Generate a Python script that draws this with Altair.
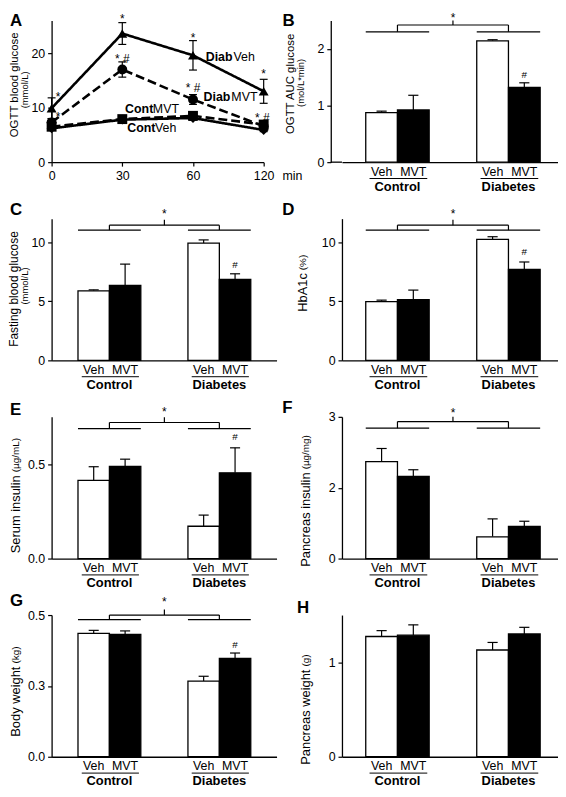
import altair as alt
import pandas as pd

FONT = "Liberation Sans"

# ---------------- Panel A: OGTT time course ----------------
a_times = ["0", "30", "60", "120"]
a_series = ["DiabVeh", "DiabMVT", "ContVeh", "ContMVT"]
a_diabveh = [9.9, 23.6, 19.6, 13.0]
a_diabveh_err = [1.9, 2.0, 2.7, 2.2]
a_diabmvt = [7.3, 17.0, 11.5, 6.6]
a_diabmvt_err = [0.7, 1.4, 0.9, 0.5]
a_contveh = [6.2, 7.8, 8.1, 5.9]
a_contveh_err = [0.3, 0.3, 0.4, 0.3]
a_contmvt = [6.5, 7.9, 8.5, 6.9]
a_contmvt_err = [0.3, 0.3, 0.4, 0.3]
a_sig_pos = [0.09, 0.09, 1.0, 1.0, 2.0, 2.0, 3.0, 2.98]
a_sig_val = [12.4, 8.6, 26.6, 19.3, 23.2, 13.9, 16.6, 8.5]
a_sig_txt = ["*", "*", "*", "* #", "*", "* #", "*", "* #"]
a_lab_bold = ["Diab", "Diab", "Cont", "Cont"]
a_lab_rest = ["Veh", "MVT", "MVT", "Veh"]
a_lab_pos = [2.18, 2.15, 1.04, 1.07]
a_lab_val = [19.3, 11.95, 9.73, 6.27]

# ---------------- Bar panels B-H ----------------
bar_groups = ["Control", "Control", "Diabetes", "Diabetes"]
bar_treat = ["Veh", "MVT", "Veh", "MVT"]
bar_slot = [0.0, 1.0, 3.5, 4.5]

b_mean = [0.875, 0.92, 2.14, 1.32]
b_top = [0.90, 1.18, 2.16, 1.40]
b_hash = 1.54
b_brk = [2.30, 2.42, 2.50, 2.60]

c_mean = [5.89, 6.35, 9.92, 6.85]
c_top = [5.97, 8.15, 10.2, 7.33]
c_hash = 8.1
c_brk = [11.03, 11.45, 11.9, 12.6]

d_mean = [4.97, 5.14, 10.25, 7.7]
d_top = [5.1, 5.95, 10.47, 8.33]
d_hash = 9.2
d_brk = [11.03, 11.45, 11.9, 12.6]

e_mean = [0.414, 0.488, 0.171, 0.454]
e_top = [0.486, 0.526, 0.23, 0.586]
e_hash = 0.645
e_brk = [0.688, 0.72, 0.748, 0.79]

f_mean = [2.05, 1.74, 0.46, 0.68]
f_top = [2.33, 1.88, 0.84, 0.79]
f_brk = [2.76, 2.9, 3.0, 3.14]

g_mean = [0.435, 0.432, 0.267, 0.347]
g_top = [0.446, 0.444, 0.284, 0.366]
g_hash = 0.395
g_brk = [0.484, 0.5, 0.52, 0.555]

h_mean = [1.273, 1.287, 1.13, 1.30]
h_top = [1.335, 1.396, 1.21, 1.37]

# ---------------- layout / style constants ----------------
H = 143
LEFT_W, RIGHT_W, A_W = 227, 218, 214
LEFT_BAR, RIGHT_BAR = 31.7, 32.0
LEFT_LO, RIGHT_LO = -0.84, -0.75
CAP = 0.16
ACAP = 0.056


def tx(text, x, y, size, weight="normal", angle=0, align="center", baseline="middle"):
    return alt.Chart(pd.DataFrame({"t": [text]})).mark_text(
        font=FONT, fontSize=size, fontWeight=weight, angle=angle, align=align,
        baseline=baseline, color="black").encode(x=alt.value(x), y=alt.value(y), text="t:N")


def ytitle(main, unit, spec):
    if spec[0] == "two":
        _, xm, ym, xu, yu, sm = spec
        return [tx(main, xm, ym, sm, angle=270), tx(unit, xu, yu, 9.5, angle=270)]
    _, x, j = spec
    return [tx(main, x, j, 13, angle=270, align="right"),
            tx(unit, x, j - 3, 10, angle=270, align="left")]


def letter_layer(letter, xy):
    return tx(letter, xy[0], xy[1], 17, weight="bold", align="left", baseline="top")


def bar_panel(mean, top, ymax, yticks, yfmt, hash_y, bracket, letter, letter_xy,
              main, unit, tspec, width, bar_px, xlo, yoffset=0):
    xs = alt.Scale(domain=[xlo, xlo + width / bar_px], nice=False, zero=False)
    ys = alt.Scale(domain=[0, ymax], nice=False, zero=True)
    xax = alt.Axis(title=None, labels=False, ticks=False, grid=False)
    yax = alt.Axis(title=None, values=yticks, format=yfmt, grid=False, offset=yoffset)

    def X(f):
        return alt.X(f, type="quantitative", scale=xs, axis=xax)

    def Y(f):
        return alt.Y(f, type="quantitative", scale=ys, axis=yax)

    df = pd.DataFrame({"group": bar_groups, "treat": bar_treat, "slot": bar_slot,
                       "mean": mean, "top": top})
    df["right"] = df["slot"] + 1
    df["center"] = df["slot"] + 0.5
    df["zero"] = 0.0
    df["capl"] = df["center"] - CAP
    df["capr"] = df["center"] + CAP
    base = alt.Chart(df)

    groups = []
    for g in ["Control", "Diabetes"]:
        sl = df[df["group"] == g]["slot"]
        groups.append({"group": g, "gl": sl.min(), "gr": sl.max() + 1,
                       "gc": (sl.min() + sl.max() + 1) / 2,
                       "ul1": sl.min() + 0.12, "ul2": sl.max() + 0.94})
    gdf = pd.DataFrame(groups)
    gbase = alt.Chart(gdf)

    layers = [
        base.mark_rule(color="black", strokeWidth=1.2).encode(x=X("center"), y=Y("mean"), y2="top"),
        base.mark_rule(color="black", strokeWidth=1.2).encode(x=X("capl"), x2="capr", y=Y("top")),
        base.mark_rect(stroke="black", strokeWidth=1.3).encode(
            x=X("slot"), x2="right", y=Y("mean"), y2="zero",
            fill=alt.Fill("treat:N", scale=alt.Scale(domain=["Veh", "MVT"], range=["white", "black"]),
                          legend=None)),
        base.mark_text(font=FONT, fontSize=12.5, color="black").encode(
            x=X("center"), y=alt.value(H + 9.5), text="treat:N"),
        gbase.mark_rule(color="black", strokeWidth=1).encode(x=X("ul1"), x2="ul2", y=alt.value(H + 16.5)),
        gbase.mark_text(font=FONT, fontSize=13, fontWeight="bold", color="black").encode(
            x=X("gc"), y=alt.value(H + 25), text="group:N"),
    ]
    if bracket is not None:
        g, c, sp, st = bracket
        c0, c1 = groups[0]["gc"], groups[1]["gc"]
        mid = (c0 + c1) / 2
        seg = pd.DataFrame({
            "x1": [groups[0]["gl"], groups[1]["gl"], c0, c1, c0, mid],
            "x2": [groups[0]["gr"], groups[1]["gr"], c0, c1, c1, mid],
            "y1": [g, g, g, g, c, c],
            "y2": [g, g, c, c, c, sp],
        })
        layers.append(alt.Chart(seg).mark_rule(color="black", strokeWidth=1.2).encode(
            x=X("x1"), x2="x2", y=Y("y1"), y2="y2"))
        layers.append(alt.Chart(pd.DataFrame({"x": [mid], "y": [st], "t": ["*"]})).mark_text(
            font=FONT, fontSize=12, baseline="alphabetic", dy=6.9, color="black").encode(
            x=X("x"), y=Y("y"), text="t:N"))
    if hash_y is not None:
        hc = df[(df["group"] == "Diabetes") & (df["treat"] == "MVT")]["center"].iloc[0]
        layers.append(alt.Chart(pd.DataFrame({"x": [hc], "y": [hash_y], "t": ["#"]})).mark_text(
            font=FONT, fontSize=10, baseline="alphabetic", dy=3.5, color="black").encode(
            x=X("x"), y=Y("y"), text="t:N"))
    if yoffset:
        layers.append(alt.Chart(pd.DataFrame({"a": [0]})).mark_rule(color="black", strokeWidth=1.3).encode(
            x=alt.value(-yoffset), x2=alt.value(0), y=alt.value(H)))
    layers += ytitle(main, unit, tspec)
    layers.append(letter_layer(letter, letter_xy))
    return alt.layer(*layers).properties(width=width, height=H)


def a_panel():
    rows = []
    for name, vals, errs in zip(a_series, [a_diabveh, a_diabmvt, a_contveh, a_contmvt],
                                [a_diabveh_err, a_diabmvt_err, a_contveh_err, a_contmvt_err]):
        for i, (v, e) in enumerate(zip(vals, errs)):
            rows.append({"series": name, "idx": i, "value": v, "lo": v - e, "hi": v + e})
    df = pd.DataFrame(rows)
    df["capl"] = df["idx"] - ACAP
    df["capr"] = df["idx"] + ACAP
    xs = alt.Scale(domain=[0, len(a_times) - 1], nice=False, zero=False)
    ys = alt.Scale(domain=[0, 26], nice=False, zero=True)
    expr = "[" + ",".join("'%s'" % t for t in a_times) + "][datum.value]"
    xax = alt.Axis(title=None, values=list(range(len(a_times))), labelExpr=expr, grid=False,
                   labelFlush=False, labelPadding=4)
    yax = alt.Axis(title=None, values=[0, 10, 20], grid=False)

    def X(f):
        return alt.X(f, type="quantitative", scale=xs, axis=xax)

    def Y(f):
        return alt.Y(f, type="quantitative", scale=ys, axis=yax)

    base = alt.Chart(df)
    sig = pd.DataFrame({"x": a_sig_pos, "y": a_sig_val, "t": a_sig_txt})
    lab = pd.DataFrame({"x": a_lab_pos, "y": a_lab_val, "b": a_lab_bold, "r": a_lab_rest})
    layers = [
        base.mark_rule(color="black", strokeWidth=1.2).encode(x=X("idx"), y=Y("lo"), y2="hi"),
        base.mark_rule(color="black", strokeWidth=1.2).encode(x=X("capl"), x2="capr", y=Y("hi")),
        base.mark_rule(color="black", strokeWidth=1.2).encode(x=X("capl"), x2="capr", y=Y("lo")),
        base.mark_line(color="black", strokeWidth=2.6).encode(
            x=X("idx"), y=Y("value"),
            strokeDash=alt.StrokeDash("series:N", scale=alt.Scale(
                domain=a_series, range=[[1, 0], [9, 4], [1, 0], [9, 4]]), legend=None)),
        base.mark_point(filled=True, size=100, opacity=1, color="black").encode(
            x=X("idx"), y=Y("value"),
            shape=alt.Shape("series:N", scale=alt.Scale(
                domain=a_series, range=["triangle-up", "circle", "diamond", "square"]), legend=None)),
        alt.Chart(sig).mark_text(font=FONT, fontSize=12, baseline="alphabetic", dy=6, color="black").encode(
            x=X("x"), y=Y("y"), text="t:N"),
        alt.Chart(lab).mark_text(font=FONT, fontSize=12.5, fontWeight="bold", align="left", color="black").encode(
            x=X("x"), y=Y("y"), text="b:N"),
        alt.Chart(lab).mark_text(font=FONT, fontSize=12.5, align="left", dx=28, color="black").encode(
            x=X("x"), y=Y("y"), text="r:N"),
        tx("min", A_W + 19, H + 8, 12.5, align="left", baseline="top"),
    ]
    layers += ytitle("OGTT blood glucose", "(mmol/L)", ("two", -37, 65, -27, 70, 11.5))
    layers.append(letter_layer("A", (-42, -7)))
    return alt.layer(*layers).properties(width=A_W, height=H)


A = a_panel()
B = bar_panel(b_mean, b_top, 2.5, [0, 1, 2], "d", b_hash, b_brk, "B", (-60, -7),
              "OGTT AUC glucose", "(mol/L*min)", ("two", -51.3, 64, -41.3, 63, 11.5),
              RIGHT_W, RIGHT_BAR, RIGHT_LO, yoffset=11.3)
C = bar_panel(c_mean, c_top, 12, [0, 5, 10], "d", c_hash, c_brk, "C", (-42, -17),
              "Fasting blood glucose", "(mmol/L)", ("two", -37.5, 71, -26.5, 68, 12),
              LEFT_W, LEFT_BAR, LEFT_LO)
D = bar_panel(d_mean, d_top, 12, [0, 5, 10], "d", d_hash, d_brk, "D", (-60.3, -17),
              "HbA1c", "(%)", ("one", -39.3, 55),
              RIGHT_W, RIGHT_BAR, RIGHT_LO)
E = bar_panel(e_mean, e_top, 0.75, [0, 0.5], ".1f", e_hash, e_brk, "E", (-42, -15),
              "Serum insulin", "(\u00b5g/mL)", ("one", -36, 59),
              LEFT_W, LEFT_BAR, LEFT_LO)
F = bar_panel(f_mean, f_top, 3, [0, 1.5, 3], ".0f", None, f_brk, "F", (-60.3, -16.5),
              "Pancreas insulin", "(\u00b5g/mg)", ("one", -36.6, 56),
              RIGHT_W, RIGHT_BAR, RIGHT_LO)
G = bar_panel(g_mean, g_top, 0.5, [0, 0.25, 0.5], ".1f", g_hash, g_brk, "G", (-42, -22.5),
              "Body weight", "(kg)", ("one", -36, 52),
              LEFT_W, LEFT_BAR, LEFT_LO)
Hc = bar_panel(h_mean, h_top, 1.5, [0, 1], "d", None, None, "H", (-45.3, -15),
               "Pancreas weight", "(g)", ("one", -36.6, 55),
               RIGHT_W, RIGHT_BAR, RIGHT_LO)

chart = alt.concat(A, B, C, D, E, F, G, Hc, columns=2,
                   spacing={"row": 57, "column": 66}, bounds="flush").properties(
    padding=0
).configure_view(strokeWidth=0).configure_axis(
    labelFont=FONT, labelFontSize=12.5, labelColor="black", domainColor="black",
    domainWidth=1.3, tickColor="black", tickWidth=1.2, tickSize=4, labelPadding=3
)

chart.save("out.html", embed_options={"renderer": "svg", "actions": False})
